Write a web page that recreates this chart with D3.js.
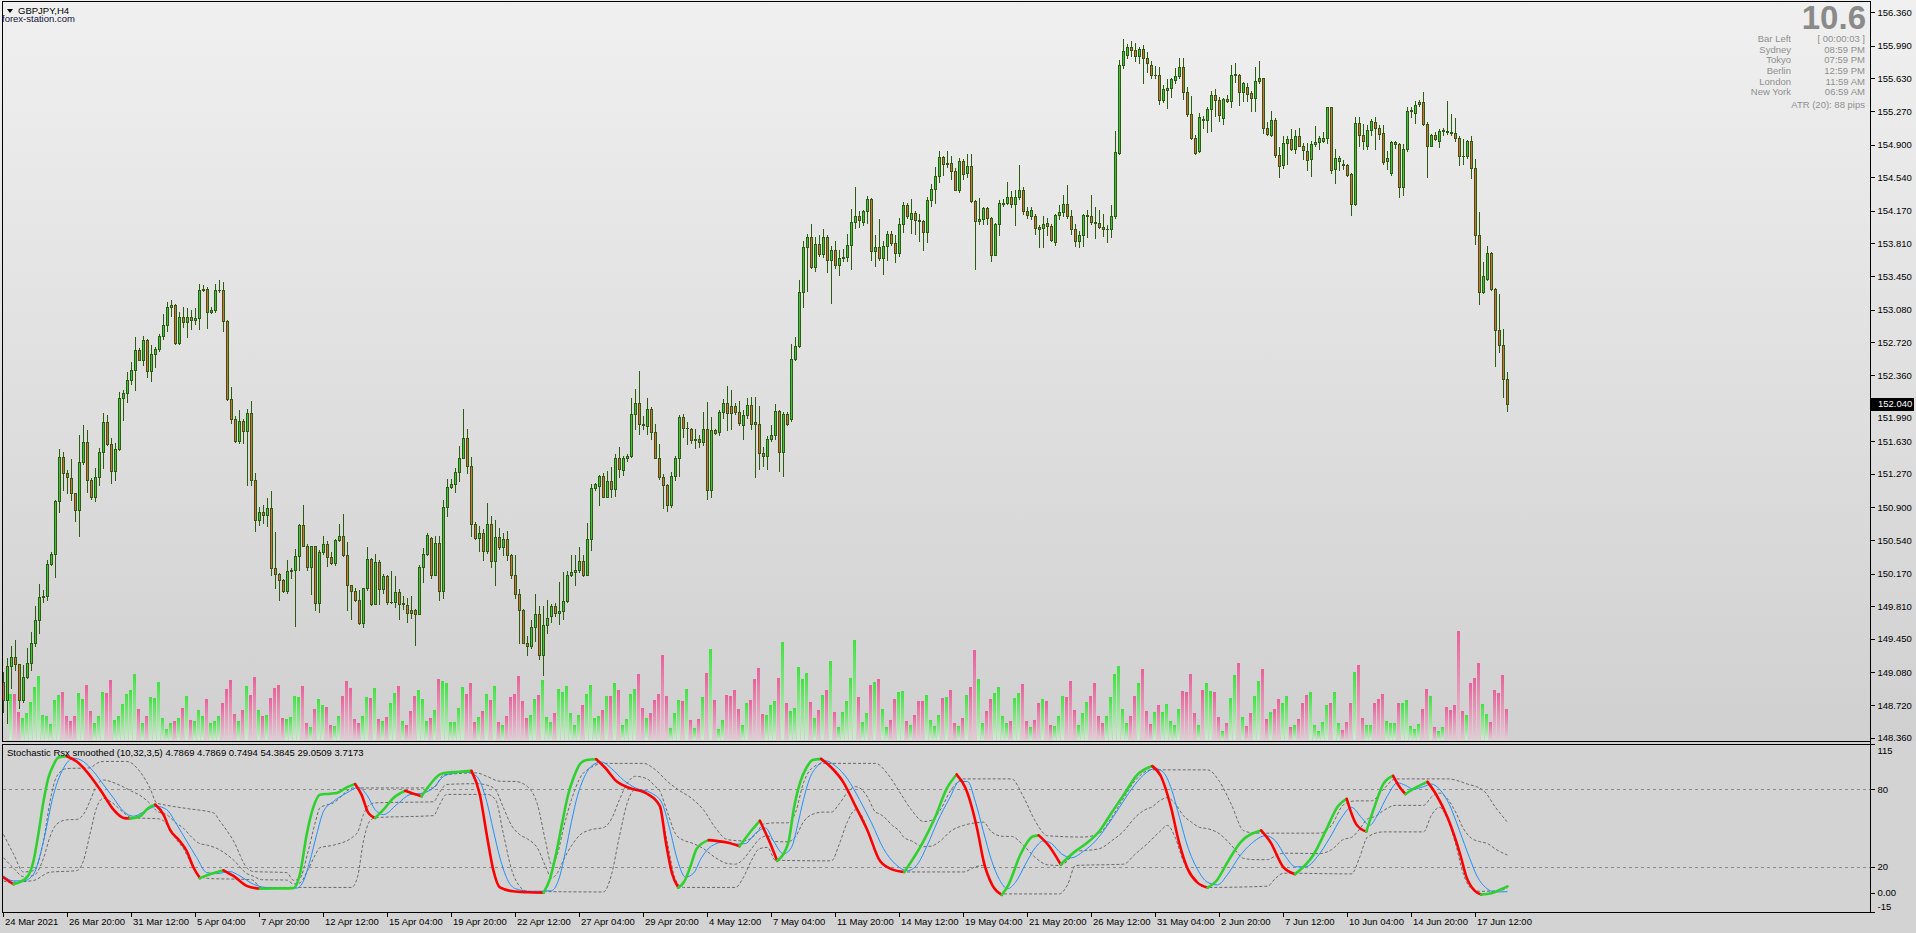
<!DOCTYPE html>
<html><head><meta charset="utf-8">
<script src="https://cdn.jsdelivr.net/npm/d3@7"></script>
<style>
html,body{margin:0;padding:0;width:1916px;height:933px;overflow:hidden;}
body{background:linear-gradient(to bottom,#f0f0f0 0px,#d0d0d0 741px,#d3d3d3 741px,#d3d3d3 933px);}
svg{display:block;font-family:"Liberation Sans",Arial,sans-serif;}
</style></head><body>
<svg id="c" width="1916" height="933"></svg>
<script>
// ---------------- DATA ----------------
const opens=[148.97,148.78,149.15,149.25,149.17,148.78,149.03,149.19,149.41,149.66,
149.91,149.92,150.28,150.39,150.97,151.46,151.28,151.22,151.06,150.87,
151.40,151.62,151.20,151.01,151.24,151.51,151.84,151.60,151.30,151.54,
152.11,152.16,152.30,152.42,152.64,152.53,152.75,152.40,152.59,152.65,
152.79,152.91,153.11,153.13,152.71,153.00,152.94,153.00,152.97,152.99,
153.30,153.31,153.05,153.08,153.30,153.30,152.96,152.10,151.87,151.63,
151.85,151.74,151.94,151.20,150.76,150.85,150.82,150.89,150.23,150.17,
150.10,149.98,150.20,150.21,150.36,150.71,150.48,150.24,150.47,149.85,
150.41,150.50,150.35,150.29,150.54,150.58,150.37,150.04,149.98,149.88,
149.63,150.01,150.33,149.84,150.30,150.00,150.14,149.86,149.86,149.97,
149.84,149.82,149.77,149.77,149.73,150.24,150.39,150.56,150.16,150.51,
149.98,150.91,151.13,151.16,151.29,151.45,151.66,151.36,150.72,150.56,
150.62,150.42,150.72,150.31,150.57,150.46,150.55,150.38,150.15,149.95,
149.77,149.41,149.37,149.58,149.72,149.27,149.60,149.70,149.81,149.74,
149.76,149.87,150.15,150.19,150.21,150.31,150.16,150.55,151.11,151.14,
151.25,151.02,151.19,151.10,151.45,151.31,151.44,151.47,151.93,152.05,
151.82,151.80,151.99,151.73,151.45,151.23,151.15,150.93,151.25,151.44,
151.90,151.78,151.77,151.64,151.65,151.62,151.76,151.09,151.75,151.73,
151.95,152.05,152.02,152.02,151.95,151.81,151.92,152.03,151.84,151.82,
151.50,151.47,151.65,151.70,151.96,151.51,151.93,151.88,152.54,152.68,
153.27,153.77,153.88,153.55,153.80,153.69,153.88,153.63,153.74,153.57,
153.65,153.66,153.79,154.05,154.11,154.05,154.17,154.30,153.73,153.77,
153.65,153.78,153.92,153.82,153.71,154.03,154.23,154.08,154.15,154.07,
154.06,153.94,154.29,154.41,154.55,154.76,154.69,154.70,154.61,154.40,
154.72,154.59,154.66,154.28,154.06,154.08,154.20,154.09,153.68,154.02,
154.25,154.26,154.32,154.25,154.32,154.40,154.17,154.11,154.11,153.99,
153.98,154.04,154.00,153.83,154.12,154.16,154.25,154.11,153.97,153.84,
153.90,154.11,154.11,154.05,154.04,153.99,153.97,153.97,154.11,154.81,
155.78,155.89,155.98,155.94,155.88,155.95,155.86,155.78,155.67,155.67,
155.39,155.50,155.52,155.61,155.66,155.76,155.48,155.24,154.97,154.83,
155.18,155.17,155.29,155.45,155.39,155.19,155.40,155.38,155.67,155.67,
155.48,155.54,155.47,155.41,155.60,155.63,155.08,155.01,155.17,154.79,
154.67,154.92,154.96,154.85,155.00,154.89,154.83,154.74,154.91,154.93,
154.94,154.97,155.31,154.63,154.72,154.69,154.67,154.58,154.24,155.14,
155.01,154.88,155.06,155.15,155.08,155.03,154.72,154.59,154.91,154.91,
154.43,154.85,155.27,155.25,155.35,155.37,155.13,154.89,155.01,154.94,
155.05,155.05,155.04,155.03,154.97,154.78,154.77,154.94,154.64,153.90,
153.28,153.42,153.71,153.31,152.86,152.69,152.32];
const highs=[149.09,149.24,149.37,149.44,149.17,149.16,149.35,149.53,149.81,150.06,
149.99,150.32,150.41,150.98,151.54,151.51,151.31,151.43,151.06,151.70,
151.81,151.75,151.22,151.33,151.55,151.94,151.92,151.67,151.61,152.17,
152.20,152.39,152.50,152.78,152.66,152.79,152.76,152.69,152.67,152.81,
153.03,153.17,153.19,153.14,153.05,153.11,153.10,153.08,153.10,153.36,
153.35,153.33,153.11,153.36,153.41,153.38,152.97,152.23,151.91,151.97,
151.87,151.99,152.07,151.28,150.91,150.93,151.00,151.08,150.63,150.18,
150.11,150.32,150.23,150.44,150.72,150.93,150.50,150.48,150.48,150.43,
150.58,150.53,150.41,150.55,150.72,150.83,150.52,150.05,150.01,149.99,
150.01,150.46,150.34,150.39,150.32,150.17,150.15,150.20,150.14,150.00,
149.92,149.90,149.92,149.78,150.27,150.45,150.62,150.57,150.58,150.58,
150.98,151.21,151.21,151.33,151.58,151.98,151.77,151.46,150.74,150.70,
150.66,150.95,150.81,150.76,150.67,150.62,150.64,150.39,150.38,150.00,
149.78,149.48,149.66,149.94,149.81,149.81,149.88,149.84,149.85,150.08,
150.19,150.20,150.38,150.37,150.46,150.38,150.73,151.16,151.17,151.26,
151.28,151.30,151.35,151.49,151.57,151.47,151.49,152.11,152.21,152.40,
151.91,152.11,152.01,151.82,151.60,151.27,151.16,151.29,151.47,151.92,
151.93,151.84,151.78,151.77,151.70,151.95,152.06,151.90,151.77,151.97,
152.09,152.24,152.20,152.05,152.07,151.97,152.11,152.12,152.12,152.02,
151.57,151.69,151.81,152.04,151.97,151.95,151.95,152.70,152.78,153.41,
153.84,153.92,154.02,153.88,153.90,153.97,153.90,153.78,153.84,153.74,
153.75,153.92,154.19,154.43,154.17,154.18,154.33,154.31,153.90,154.08,
153.84,153.95,153.95,153.90,154.09,154.27,154.26,154.30,154.17,154.14,
154.07,154.32,154.47,154.65,154.83,154.78,154.83,154.77,154.64,154.75,
154.74,154.80,154.80,154.29,154.31,154.21,154.21,154.10,154.04,154.29,
154.30,154.49,154.39,154.40,154.67,154.43,154.21,154.21,154.13,154.01,
154.11,154.09,154.03,154.14,154.23,154.35,154.45,154.18,154.03,153.95,
154.14,154.18,154.35,154.21,154.18,154.13,154.01,154.23,155.05,155.83,
156.07,156.01,156.04,156.02,155.98,156.00,155.92,155.82,155.77,155.76,
155.56,155.62,155.64,155.75,155.85,155.85,155.53,155.44,155.01,155.25,
155.22,155.31,155.49,155.51,155.43,155.41,155.45,155.78,155.80,155.68,
155.59,155.58,155.49,155.76,155.82,155.64,155.15,155.27,155.19,154.87,
154.99,155.00,155.07,155.06,155.08,154.92,154.92,154.94,155.10,155.00,
155.04,155.32,155.31,154.85,154.78,154.73,154.69,154.59,155.21,155.21,
155.13,155.12,155.18,155.21,155.12,155.12,154.83,154.94,154.94,154.92,
154.91,155.31,155.31,155.38,155.39,155.48,155.15,155.02,155.04,155.07,
155.08,155.38,155.24,155.19,155.00,154.96,154.95,155.00,154.74,154.16,
153.61,153.78,153.72,153.32,153.25,152.87,152.39];
const lows=[148.64,148.52,148.91,149.11,148.69,148.76,149.02,149.11,149.37,149.51,
149.86,149.88,150.27,150.13,150.85,151.09,151.06,150.98,150.75,150.58,
151.38,151.07,150.99,150.97,151.15,151.33,151.59,151.17,151.20,151.53,
151.86,152.06,152.26,152.20,152.52,152.47,152.34,152.29,152.45,152.63,
152.76,152.84,153.01,152.70,152.70,152.89,152.78,152.87,152.92,152.87,
153.29,152.88,153.04,153.05,153.28,152.84,152.08,151.83,151.62,151.61,
151.61,151.15,151.15,150.64,150.71,150.73,150.70,150.16,150.01,149.88,
149.97,149.96,150.12,149.59,150.21,150.47,150.21,149.95,149.77,149.75,
150.39,150.25,150.28,150.27,150.53,150.36,149.77,149.67,149.87,149.61,
149.58,149.99,149.82,149.83,149.84,149.96,149.83,149.85,149.80,149.67,
149.78,149.64,149.68,149.38,149.73,150.08,150.37,150.12,150.15,149.88,
149.90,150.81,151.11,151.07,151.19,151.44,151.28,150.58,150.55,150.42,
150.32,150.40,150.24,150.04,150.44,150.38,150.32,150.12,149.90,149.41,
149.40,149.27,149.35,149.43,149.23,149.05,149.52,149.64,149.70,149.62,
149.67,149.86,150.14,150.05,150.19,150.14,150.15,150.43,151.09,150.93,
151.01,151.01,151.01,151.03,151.24,151.26,151.41,151.46,151.77,151.71,
151.77,151.71,151.65,151.44,151.21,150.89,150.86,150.91,151.20,151.25,
151.68,151.60,151.61,151.56,151.57,151.59,150.99,151.01,151.71,151.70,
151.89,151.75,151.76,151.93,151.81,151.65,151.89,151.76,151.23,151.32,
151.36,151.32,151.63,151.65,151.30,151.25,151.81,151.85,152.52,152.67,
153.11,153.29,153.54,153.51,153.67,153.66,153.50,153.15,153.54,153.46,
153.62,153.62,153.53,153.98,153.99,154.01,154.04,153.63,153.56,153.63,
153.47,153.63,153.79,153.61,153.67,153.94,154.09,153.93,153.92,153.84,
153.74,153.83,154.22,154.26,154.49,154.57,154.65,154.52,154.40,154.38,
154.52,154.54,154.27,153.53,154.03,154.03,154.03,153.62,153.68,153.90,
154.22,154.24,154.21,154.01,154.30,154.14,154.09,154.08,153.92,153.77,
153.77,153.90,153.84,153.79,154.08,154.11,154.09,153.92,153.78,153.77,
153.78,153.88,154.03,153.87,153.98,153.89,153.83,153.88,154.09,154.80,
155.74,155.85,155.88,155.82,155.80,155.58,155.70,155.64,155.63,155.35,
155.37,155.30,155.43,155.58,155.64,155.40,155.22,154.96,154.80,154.82,
155.08,155.04,155.05,155.22,155.16,155.13,155.37,155.31,155.59,155.34,
155.38,155.38,155.27,155.27,155.58,155.03,155.01,154.99,154.76,154.54,
154.64,154.69,154.84,154.81,154.88,154.74,154.62,154.55,154.89,154.85,
154.93,154.92,154.59,154.48,154.62,154.63,154.55,154.12,154.23,154.89,
154.85,154.85,155.01,154.85,154.96,154.69,154.63,154.57,154.86,154.32,
154.35,154.83,155.21,155.14,155.33,155.12,154.54,154.88,154.95,154.87,
155.01,155.02,155.01,154.94,154.67,154.69,154.75,154.53,153.80,153.14,
153.26,153.41,153.30,152.46,152.61,152.12,151.96];
const closes=[148.78,149.15,149.25,149.17,148.78,149.03,149.19,149.41,149.66,149.91,
149.92,150.28,150.39,150.97,151.46,151.28,151.24,151.06,150.87,151.40,
151.62,151.20,151.01,151.24,151.51,151.84,151.60,151.30,151.54,152.11,
152.16,152.30,152.42,152.64,152.53,152.75,152.40,152.59,152.65,152.79,
152.91,153.11,153.13,152.71,153.00,152.94,153.00,152.97,152.99,153.30,
153.31,153.05,153.08,153.30,153.30,152.96,152.10,151.87,151.63,151.85,
151.74,151.94,151.20,150.76,150.85,150.82,150.89,150.23,150.17,150.10,
149.98,150.20,150.21,150.36,150.71,150.48,150.24,150.47,149.85,150.41,
150.50,150.35,150.29,150.54,150.58,150.37,150.04,149.98,149.88,149.63,
150.01,150.33,149.84,150.30,150.00,150.14,149.86,149.86,149.97,149.84,
149.85,149.74,149.74,149.73,150.24,150.39,150.60,150.16,150.51,149.98,
150.91,151.13,151.16,151.29,151.45,151.66,151.36,150.72,150.56,150.62,
150.42,150.72,150.31,150.57,150.46,150.55,150.38,150.15,149.95,149.77,
149.41,149.37,149.58,149.72,149.27,149.60,149.68,149.81,149.74,149.76,
149.87,150.15,150.19,150.21,150.31,150.16,150.55,151.11,151.16,151.25,
151.02,151.19,151.10,151.45,151.32,151.44,151.47,151.93,152.05,151.82,
151.81,151.99,151.73,151.45,151.24,151.15,150.93,151.25,151.44,151.90,
151.78,151.78,151.64,151.65,151.62,151.76,151.09,151.75,151.72,151.95,
152.05,151.94,151.94,151.95,151.83,151.92,152.03,151.82,151.82,151.50,
151.47,151.65,151.70,151.96,151.51,151.93,151.82,152.54,152.68,153.27,
153.77,153.88,153.55,153.80,153.69,153.88,153.63,153.74,153.57,153.65,
153.66,153.79,154.05,154.11,154.07,154.17,154.30,153.73,153.77,153.65,
153.78,153.92,153.82,153.71,154.03,154.23,154.11,154.15,154.07,154.06,
153.94,154.29,154.41,154.55,154.76,154.69,154.70,154.61,154.40,154.72,
154.58,154.66,154.28,154.06,154.08,154.20,154.09,153.68,154.02,154.26,
154.26,154.32,154.25,154.32,154.40,154.17,154.12,154.18,153.98,153.97,
154.03,154.00,153.85,154.12,154.16,154.25,154.11,153.97,153.84,153.90,
154.12,154.12,154.05,154.04,153.99,153.97,153.97,154.11,154.82,155.78,
155.93,155.98,155.94,155.88,155.95,155.86,155.80,155.67,155.67,155.39,
155.51,155.52,155.62,155.66,155.76,155.48,155.24,154.97,154.81,155.20,
155.17,155.29,155.45,155.39,155.23,155.40,155.38,155.67,155.68,155.48,
155.58,155.46,155.41,155.60,155.63,155.08,155.02,155.17,154.79,154.66,
154.92,154.96,154.85,155.00,154.89,154.84,154.73,154.91,154.93,154.97,
154.97,155.31,154.62,154.75,154.75,154.68,154.57,154.24,155.14,155.01,
154.94,155.06,155.16,155.08,155.02,154.71,154.75,154.93,154.93,154.43,
154.85,155.27,155.28,155.34,155.37,155.13,154.89,155.01,154.96,155.05,
155.06,155.04,155.03,154.97,154.78,154.77,154.94,154.64,153.90,153.28,
153.45,153.71,153.31,152.86,152.69,152.32,152.04];
const volumes=[null,null,46,46,28,22,27,38,53,64,
25,24,16,40,45,48,24,19,24,47,41,55,29,17,24,48,47,60,20,24,
36,46,50,66,31,17,24,43,42,58,22,11,17,19,22,32,44,20,19,30,
24,41,17,19,24,37,51,60,26,19,30,54,45,63,30,24,25,42,52,55,
22,21,23,44,43,54,17,13,31,41,35,33,15,14,24,44,59,52,21,17,
24,43,42,52,21,19,23,37,47,54,19,15,29,44,50,41,19,22,30,61,
59,57,18,18,32,53,46,57,18,23,29,46,40,54,18,15,24,43,46,64,
39,22,25,41,45,60,23,18,27,51,48,54,27,15,25,35,46,55,22,24,
30,44,44,57,50,15,21,46,51,66,32,22,27,40,46,85,44,12,27,40,
39,51,20,12,21,43,67,91,40,11,20,45,44,50,31,15,37,40,61,72,
26,25,35,39,62,98,37,29,32,73,61,67,38,22,30,45,50,79,28,13,
28,39,62,100,43,18,27,55,58,61,31,13,20,41,48,49,19,15,25,39,
39,45,20,14,25,42,43,50,17,14,22,45,53,90,61,17,29,41,47,53,
24,17,19,42,47,56,19,13,20,37,41,39,15,14,24,44,43,59,30,15,
27,38,44,57,24,17,24,43,66,74,31,17,24,44,57,71,29,16,28,35,
28,36,19,15,31,49,48,66,27,15,50,57,49,48,23,9,17,42,65,77,
23,14,27,44,59,71,21,28,31,41,37,44,13,15,21,37,45,48,15,9,
18,35,37,48,17,10,18,37,68,75,22,15,15,37,41,46,19,17,17,37,
37,40,14,11,16,31,51,44,13,9,13,33,30,35,109,29,25,57,62,77,
36,26,18,50,47,65,31];
const priceTicks=[156.360,155.990,155.630,155.270,154.900,154.540,154.170,153.810,153.450,153.080,152.720,152.360,151.990,151.630,151.270,150.900,150.540,150.170,149.810,149.450,149.080,148.720,148.360];
const lastPrice=152.040;
const timeBars=[0,16,32,48,64,80,96,112,128,144,160,176,192,208,224,240,256,272,288,304,320,336,352,368];
const timeLabels=["24 Mar 2021","26 Mar 20:00","31 Mar 12:00","5 Apr 04:00","7 Apr 20:00","12 Apr 12:00","15 Apr 04:00","19 Apr 20:00","22 Apr 12:00","27 Apr 04:00","29 Apr 20:00","4 May 12:00","7 May 04:00","11 May 20:00","14 May 12:00","19 May 04:00","21 May 20:00","26 May 12:00","31 May 04:00","2 Jun 20:00","7 Jun 12:00","10 Jun 04:00","14 Jun 20:00","17 Jun 12:00"];
const oscTicks=[115,80,20,0,-15];
const oscTickLabels=["115","80","20","0.00","-15"];
const oscLevels=[80,20];
// oscillator main line (bar position, value)
const mainBars=[0,2.5,5.8,7.5,8.7,10,11.2,12.5,13.7,15.8,18.3,20.8,23.3,25,27.5,30,31.6,34.1,36.2,37.9,40,41.6,44.1,45.8,47.5,49.1,51.6,55,57.5,60.8,64.1,68.3,72.5,74.1,75.8,77.4,79.1,81.6,83.3,85.8,87.9,89.5,91.2,92.9,95,97.5,100.4,102.5,104.5,106.6,109.1,111,114,117,119.1,120.8,122.5,124.1,127.4,131,135,136.6,138.1,139.6,141.2,142.7,144.2,145.8,148.2,150.3,153.4,156.5,161,164.1,165.6,167.1,168.7,170.2,171.7,173.3,176.3,180.9,184,187,189.1,191.6,193.4,196.2,197.7,199.2,200.8,202.3,204.4,206.9,209.9,213,216,219.1,222.1,225.2,229.8,232.8,235.9,238.3,240.5,243.5,245,247.2,249.6,251.2,254.2,257.3,258.8,261.2,264.3,268,271,274.1,277.1,280.2,283.2,287.2,289.3,291.8,293.9,296.1,298.5,301,303.1,306.2,309.2,314.4,316.8,319.9,322.9,327.5,330.6,333.6,335.8,338.2,340.7,342.8,344.9,347.4,349.2,350.5,352.9,356,358.1,361.1,364.2,365.7,367.9,369.4,372,374,376];
const mainVals=[11.7,6.5,11.7,24.5,45,70.6,88.6,98.8,104.5,105.5,101.4,93.7,83.5,75.8,64.2,57.8,57.3,59.1,65.5,68.1,60.4,48.8,39.8,32.2,19.4,11.2,14.2,17.3,12.9,5.2,3.0,3.2,3.5,14.2,45,65.5,75.8,76.5,77.1,81.4,84,75.8,61.7,57.8,64.2,73.2,78.8,76.5,74.5,83.5,91.5,93.0,93.5,94.2,75.8,45,16.8,4,1.0,0.3,0.0,10.5,29.3,52.8,76.3,90.4,99.8,102.6,103.2,97,85.7,81,76.3,66.9,38.7,15.2,3.9,8.6,19.9,34,40.6,38.7,35.9,48.1,55.6,38.7,24.6,38.7,66.9,85.7,97,102.6,103.5,97,85.7,66.9,48.1,24.6,18,16,38.7,57.5,81,91.4,81,48.1,24.6,5.8,-1.7,5.8,29.3,43.4,44.3,36.8,21.8,32.1,38.7,48.1,62.2,76.3,90.4,97.9,90.4,66.9,38.7,18,7.7,3.9,8.6,24.6,38.7,48.1,38.7,19.9,14.3,29.3,48.1,66.9,72.5,52.8,47.2,66.9,83.8,90.4,81,76.3,81,85.7,76.3,57.5,29.3,12.4,1.1,-1.5,-0.5,2,4.79];
// signal (blue) line
const sigBars=[0,2.5,5,7.5,10,12.5,15,17.5,20,22.5,25,27.5,30,32.5,35,38.3,40.8,43.3,45.8,48.3,50.8,53.3,56.6,59.1,62.5,65.8,70,73.3,75,76.6,78.3,80,82.5,85.8,88.7,90.8,92.9,95,98.3,101.6,105,107.5,110,112.5,115.8,118.3,120.8,122.5,124.1,126,128,132,137,139,140.5,142,143.5,145,147,149.5,152,155,158,162,164.5,166.5,168.5,170.5,172.5,174.5,177,180,183,185.5,188,190.5,192.5,195,197,198.5,200,201.5,203.5,205.5,208,211,214,217,220,223,226,228.5,231,233.5,236.5,239,241,243,245,247,249,251,253,255.5,258,260,262,264.5,267,270,273,276,279,282,285,288,290,292,294,296,298.5,301,303.5,306,309,312,315.5,318,320.5,323,325.5,328.5,331.5,334.5,337,339.5,341.5,343.5,346,348.5,350.5,352.5,355,357,359,361.5,364,366.5,368.5,370.5,373,376];
const sigVals=[12.9,9.1,9.1,14.2,39.8,75.8,96.3,104,101.4,93.7,83.5,73.2,62.9,59.1,62.4,66.8,64.2,52.7,39.8,27.1,15.5,14.7,16.3,12.9,6.5,3.9,3.5,3.5,9.1,24.5,45,62.9,70.6,77.1,81.4,75.8,64.2,60.4,68.1,75.8,77.1,81.2,89.9,92.4,93.2,89.9,70.6,47.6,27.1,10,3,1,1.5,12,32,55,75,88,98,101,96,87,81,77,70,50,25,12,15,27,36,39,37.5,38,46,50,40,30,35,52,72,88,98,102,98,88,72,54,34,22,17,22,37,55,73,86,86,70,47,25,10,3,8,22,35,40,38,30,27,32,40,52,66,80,91,96,93,80,58,36,18,8,6,14,28,38,44,40,28,20,20,28,42,58,66,58,52,60,75,85,83,80,82,84,80,68,48,27,12,4,0.5,0.75];
// floating level lines (dashed): upper, middle, lower
const upBars=[0,2.5,5,7.5,10,11.6,13.3,15.8,21.6,23.3,25,30.8,34.1,36.6,38.3,40.8,46,52.5,54.1,57.5,60.8,62.5,70.8,72.5,74.1,76,78,79.1,82.5,87.5,107.5,110,118.3,120.8,124.1,128,131,133.5,135.5,137,138.5,140,142,144,147,150,160,163,166,169,172,175,178,181,185,188,190,193,196,198,200,202,205,218,221,224,227,230,232,234,237,240,252,255,258,261,270,274,277,280,283,287,301,304,307,310,313,329,332,335,338,342,345,348,361,366,370,373,376];
const upVals=[45,30,16,17,40,70,90,96,96.5,100,101.5,101.5,93.7,81,69.4,67.6,65,61.7,55.3,40,19.4,16.3,15.5,9.5,11,30,55,65.6,69.5,81,81,91,92.6,90,86.2,86,82,68,40,22,30,50,72,88,97,100,100,95,86,79,73,64,50,41,40,45,53,54,54,62,85,96,100,100,92,78,64,55,56,63,80,88,88,74,55,44,43,46,58,73,87,95,95,86,68,48,46,46,52,68,71,71,80,88,88,84,79,66,54.38];
const midBars=[0,2.5,5,7.5,10,11.6,13.3,15.8,18.3,20,21.6,23.3,25,27,30,32,34.1,36.6,38.3,40.8,43,45,47,49,51,54.1,57.5,60.8,62.5,64.5,70.8,72.5,74.1,76,78,79.1,82.5,87.5,88.5,90,91.5,93,107.5,109,110.8,118.3,121,123,125,127,129,131,133.5,135.5,137,138.5,140,142,144,147,150,152,154,156,158,161,163,164,166,168,170,172,175,178,181,183,185,187,189,191,193,196,198,200,202,205,207,209,211,213,214.5,216,218,219,221,222,224,225,227,230,232,234,237,240,243,245,247,250,252,255,258,261,264,266,268,270,274,277,280,283,286,287,289,291,293,295,297,299,301,304,307,310,313,316,318,320,329,332,335,337,339,341,343,345,348,355,357,359,361,363,365,367,369,371,373,376];
const midVals=[27,19,12.4,13.2,26.5,43,53,56.3,56.6,60.6,70.7,83,87.2,85.7,81.7,78.5,75.3,69,63.2,60.3,54.2,49.8,43,38,36.7,33,25.2,14.8,12.6,10,9.7,6.7,7.5,17,29.5,34.8,36.7,43.5,46.5,60.5,68,69.5,70.3,77.5,83.7,84.3,83,79.5,65.5,52,45,41.5,34.4,20.4,11.4,15.4,25.3,36.3,44.3,48.8,50.3,57,72,85,90,87.8,82,79,62,45.5,40.5,38.5,34,27,22.5,22,26,34,41.5,44,39.5,39.3,43.3,54.8,60.3,62.3,62.3,69,77.5,82,80,74,62.3,61,56,52.5,47.5,43,40,35.5,36,39.5,48,52,54,54.5,47,43.5,43.5,36.5,27,21.5,21,24.5,32,32.5,34,40,47.5,58.5,65,66,71,73.5,68.5,59.5,54.5,50.5,49.5,45.5,36.5,26.5,25.5,25.5,28.5,30.5,30.2,33.2,41.2,42.7,49,57,59,63.5,67.5,67.5,74,77,72.5,62.5,49.4,42,39.5,38,33.7,29.05];
const loBars=[0,1.6,7.5,11.6,18.3,20,21.6,23.3,25,27,30,32,39,41.5,43,45,47,49,51,62,64.5,87,88.5,90,91.5,93,107.5,109,110.8,121,123,125,127,129,131,150,152,154,156,158,161,164,166,168,170,183,185,187,189,191,193,207,209,211,213,214.5,216,219,222,225,240,243,245,247,250,264,266,268,280,283,286,289,291,293,295,297,299,301,316,318,320,337,339,341,345,355,357,359,361,363,365,367,369,374,376];
const loVals=[9,8,9.4,15.8,17,24.8,45,66,73,70,62,58,57,50,42,34,22,13,11,10,4,4,12,40,55,58,59.6,68,76,76,72,45,18,5,1,0.5,14,44,70,80,76,66,38,10,4,4,12,25,34,35,25,24.6,38,55,64,60,48,24.6,18,16,16,20,21,6,-1,-1,6,21,22,30,38,47,52,42,24,14,6,4,5,11,15,14.5,27,43,47,47,60,66,57,38,14,3,1,1.5,3.72];

// ---------------- LAYOUT ----------------
const svg=d3.select('#c');
const AX=1870;
const FONT='"Liberation Sans",Arial,sans-serif';
const x=d3.scaleLinear().domain([0,376]).range([3.5,1507.5]);
const px=i=>Math.floor(x(i));
const yP=d3.scaleLinear().domain([148.36,156.36]).range([737.8,12.2]);
const yV=d3.scaleLinear().domain([0,100]).range([740,640]);
const yO=d3.scaleLinear().domain([-15,115]).range([912,744]);
const WICK='#2d5b10', BULL='#3ec43e', BEAR='#e0683a';

const defs=svg.append('defs');
defs.append('clipPath').attr('id','mainClip').append('rect').attr('x',3).attr('y',2).attr('width',AX-3).attr('height',739);
defs.append('clipPath').attr('id','oscClip').append('rect').attr('x',3).attr('y',745).attr('width',AX-3).attr('height',167);
function grad(id,top,bottom){
  const g=defs.append('linearGradient').attr('id',id).attr('x1',0).attr('y1',0).attr('x2',0).attr('y2',1);
  g.append('stop').attr('offset','0%').attr('stop-color',top);
  g.append('stop').attr('offset','100%').attr('stop-color',bottom);
}
grad('gG','#3fe23f','#d3e9d3');
grad('gP','#e8609a','#e2cdd5');

// ---------- main panel ----------
const gMain=svg.append('g').attr('clip-path','url(#mainClip)');
const volIdx=d3.range(volumes.length).filter(i=>volumes[i]!=null);
gMain.append('g').selectAll('rect').data(volIdx).join('rect')
  .attr('x',i=>px(i)-2).attr('width',3)
  .attr('y',i=>Math.round(yV(volumes[i])))
  .attr('height',i=>740-Math.round(yV(volumes[i])))
  .attr('fill',i=>closes[i]>=opens[i]?'url(#gG)':'url(#gP)');
const idx=d3.range(closes.length);
const gC=gMain.append('g').attr('shape-rendering','crispEdges');
gC.selectAll('line.w').data(idx).join('line').attr('class','w')
  .attr('x1',i=>px(i)+0.5).attr('x2',i=>px(i)+0.5)
  .attr('y1',i=>Math.round(yP(highs[i]))).attr('y2',i=>Math.round(yP(lows[i]))+1)
  .attr('stroke',WICK).attr('stroke-width',1);
idx.forEach(i=>{
  const t=Math.round(yP(Math.max(opens[i],closes[i]))), b=Math.round(yP(Math.min(opens[i],closes[i])));
  if(b-t<2){
    gC.append('line').attr('x1',px(i)-1).attr('x2',px(i)+2).attr('y1',t+0.5).attr('y2',t+0.5).attr('stroke',WICK);
    if(b-t>=1) gC.append('line').attr('x1',px(i)-1).attr('x2',px(i)+2).attr('y1',b+0.5).attr('y2',b+0.5).attr('stroke',WICK);
  } else {
    gC.append('rect').attr('x',px(i)-0.5).attr('y',t+0.5).attr('width',2).attr('height',b-t)
      .attr('fill',closes[i]>=opens[i]?BULL:BEAR).attr('stroke',WICK).attr('stroke-width',1);
  }
});

// ---------- oscillator ----------
const gO=svg.append('g').attr('clip-path','url(#oscClip)');
gO.selectAll('line.lv').data(oscLevels).join('line').attr('class','lv')
  .attr('x1',3).attr('x2',AX).attr('y1',d=>Math.round(yO(d))+0.5).attr('y2',d=>Math.round(yO(d))+0.5)
  .attr('stroke','#8c8c8c').attr('stroke-dasharray','3,3');
const lineGen=d3.line().x(d=>x(d[0])).y(d=>yO(d[1])).curve(d3.curveMonotoneX);
function pts(b,v){return b.map((bb,i)=>[bb,v[i]]);}
[[upBars,upVals],[midBars,midVals],[loBars,loVals]].forEach(([b,v])=>{
  gO.append('path').attr('d',lineGen(pts(b,v))).attr('fill','none').attr('stroke','#6a6a6a')
    .attr('stroke-width',1).attr('stroke-dasharray','3,2');
});
gO.append('path').attr('d',lineGen(pts(sigBars,sigVals))).attr('fill','none').attr('stroke','#1e90ff').attr('stroke-width',1);
(function(){
  const p=pts(mainBars,mainVals);
  const runs=[]; let cur=[p[0]], dir=0;
  for(let i=1;i<p.length;i++){
    let d=Math.sign(p[i][1]-p[i-1][1]); if(d===0) d=dir||1;
    if(dir!==0 && d!==dir){runs.push({dir,pts:cur}); cur=[p[i-1]];}
    dir=d; cur.push(p[i]);
  }
  runs.push({dir,pts:cur});
  runs.forEach(r=>gO.append('path').attr('d',lineGen(r.pts)).attr('fill','none')
    .attr('stroke',r.dir>0?'#2fd12f':'#ff0000').attr('stroke-width',2.6).attr('stroke-linecap','round'));
})();

// ---------- frames ----------
const frame=svg.append('g').attr('fill','none').attr('stroke','#000').attr('shape-rendering','crispEdges');
frame.append('rect').attr('x',2.5).attr('y',1.5).attr('width',AX-2).attr('height',740);
frame.append('rect').attr('x',2.5).attr('y',744.5).attr('width',AX-2).attr('height',168);

// ---------- axes ----------
function styleAxis(g){
  g.select('.domain').remove();
  g.selectAll('line').attr('stroke','#000').attr('shape-rendering','crispEdges');
  g.selectAll('text').attr('font-family',FONT).attr('font-size','9.5px').attr('fill','#000');
}
const gPA=svg.append('g').attr('transform',`translate(${AX+0.5},0)`)
  .call(d3.axisRight(yP).tickValues(priceTicks).tickFormat(d3.format('.3f')).tickSize(4).tickPadding(3));
styleAxis(gPA);
// label hidden under the current-price marker is nudged just below it
gPA.selectAll('.tick text').filter(d=>Math.abs(d-lastPrice)<0.1).attr('dy','1.25em');
svg.append('rect').attr('x',AX+1).attr('y',Math.round(yP(lastPrice))-6).attr('width',43).attr('height',13).attr('fill','#000');
svg.append('text').attr('x',AX+8).attr('y',yP(lastPrice)).attr('dy','0.35em').attr('font-family',FONT)
  .attr('font-size','9.5px').attr('fill','#fff').text(d3.format('.3f')(lastPrice));

const gOA=svg.append('g').attr('transform',`translate(${AX+0.5},0)`)
  .call(d3.axisRight(yO).tickValues(oscTicks).tickFormat((d,i)=>oscTickLabels[i]).tickSize(4).tickPadding(3));
styleAxis(gOA);
gOA.selectAll('.tick text').attr('dy',d=>d===115?'1.0em':(d===-15?'-0.3em':'0.32em'));

const gTA=svg.append('g').attr('transform','translate(0,912.5)')
  .call(d3.axisBottom(x).tickValues(timeBars).tickFormat((d,i)=>timeLabels[i]).tickSize(4));
styleAxis(gTA);
gTA.selectAll('.tick line').attr('transform','translate(-0.5,0)');
gTA.selectAll('.tick text').attr('text-anchor','start').attr('x',1).attr('y',6).attr('dy','0.71em');
svg.append('line').attr('x1',AX+0.5).attr('x2',AX+0.5).attr('y1',1).attr('y2',913).attr('stroke','#000');

// ---------- texts ----------
svg.append('path').attr('d','M7,9 L13,9 L10,13 Z').attr('fill','#000');
svg.append('text').attr('x',18).attr('y',13.5).attr('font-family',FONT).attr('font-size','9.5px').attr('fill','#000').text('GBPJPY,H4');
svg.append('text').attr('x',2).attr('y',22).attr('font-family',FONT).attr('font-size','9.5px').attr('fill','#10103a').text('forex-station.com');
svg.append('text').attr('x',7).attr('y',755.5).attr('font-family',FONT).attr('font-size','9.5px').attr('fill','#000')
  .text('Stochastic Rsx smoothed (10,32,3,5) 4.7869 4.7869 0.7494 54.3845 29.0509 3.7173');

svg.append('text').attr('x',1866).attr('y',29).attr('text-anchor','end').attr('font-family',FONT)
  .attr('font-size','33px').attr('font-weight','bold').attr('fill','#8a8a8a').text('10.6');
const infoL=['Bar Left','Sydney','Tokyo','Berlin','London','New York'];
const infoR=['[ 00:00:03 ]','08:59 PM','07:59 PM','12:59 PM','11:59 AM','06:59 AM'];
const infoY=[42,52.5,63,73.5,84.5,95];
infoL.forEach((t,i)=>{
  svg.append('text').attr('x',1791).attr('y',infoY[i]).attr('text-anchor','end').attr('font-family',FONT)
    .attr('font-size','9.5px').attr('fill','#8f8f8f').text(t);
  svg.append('text').attr('x',1865).attr('y',infoY[i]).attr('text-anchor','end').attr('font-family',FONT)
    .attr('font-size','9.5px').attr('fill','#8f8f8f').text(infoR[i]);
});
svg.append('text').attr('x',1865).attr('y',107.5).attr('text-anchor','end').attr('font-family',FONT)
  .attr('font-size','9.5px').attr('fill','#8f8f8f').text('ATR (20): 88 pips');
</script>
</body></html>
